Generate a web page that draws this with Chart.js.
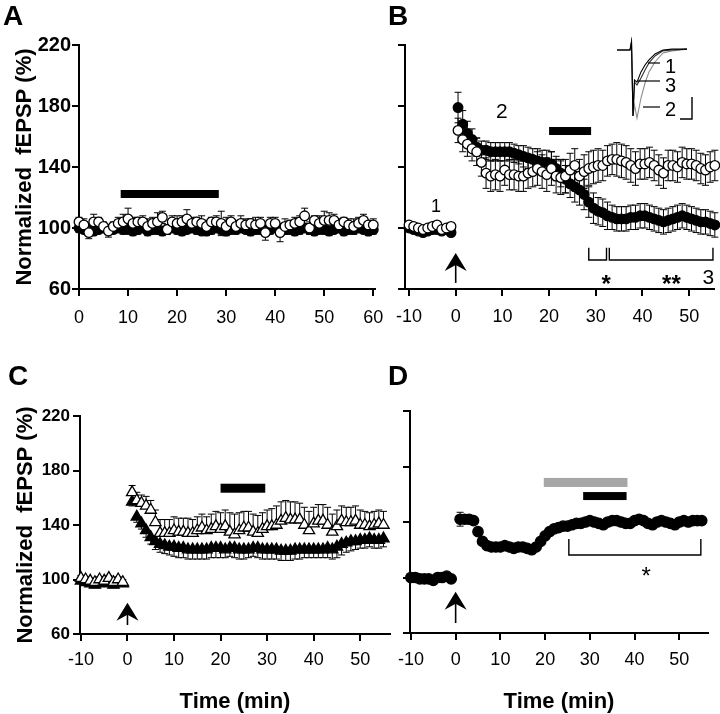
<!DOCTYPE html>
<html>
<head>
<meta charset="utf-8">
<script src="https://cdn.jsdelivr.net/npm/chart.js@4.4.1/dist/chart.umd.min.js"></script>
<style>
  html, body { margin: 0; padding: 0; background: #fff; }
  #fig { position: relative; width: 720px; height: 714px; overflow: hidden; background: #fff; }
  #fig canvas { position: absolute; }
</style>
</head>
<body>
<div id="fig">
  <canvas id="panelA" width="400" height="330" style="left:0;top:0"></canvas>
  <canvas id="panelB" width="360" height="330" style="left:360px;top:0"></canvas>
  <canvas id="panelC" width="400" height="384" style="left:0;top:330px"></canvas>
  <canvas id="panelD" width="360" height="384" style="left:360px;top:330px"></canvas>
</div>
<script>
const FAMILY = "'Liberation Sans', Arial, Helvetica, sans-serif";
const Y_TITLE = 'Normalized  fEPSP (%)';
const X_TITLE = 'Time (min)';

// ---- Panel A : two groups, no induction ----
const timesA = [0,1,2,3,4,5,6,7,8,9,10,11,12,13,14,15,16,17,18,19,20,21,22,23,24,25,26,27,28,29,30,
  31,32,33,34,35,36,37,38,39,40,41,42,43,44,45,46,47,48,49,50,51,52,53,54,55,56,57,58,59,60];
const openA = [104,102,97,104,104,101,98,101,103,104, 106,103,104,104,101,103,104,107,99,104,
  103,104,106,103,104,103,101,104,104,103, 101,104,101,103,102,103,102,103,97,103,
  103,97,101,102,103,104,108,100,105,103, 105,105,105,102,104,102,101,103,105,102, 102];
const filledA = [100,99,99,98,99,100,99,99,100,99, 99,98,99,100,98,99,99,98,99,100,
  99,98,99,100,99,98,98,99,100,99, 98,99,99,100,99,98,99,99,98,99,
  100,98,99,99,98,99,100,99,98,99, 99,98,99,100,98,99,99,100,99,98, 99];
const errOpenA = [3,4,4,5,3,3,4,3,4,5, 7,4,3,4,5,4,6,4,3,4, 5,4,6,4,3,5,4,3,4,8,
  6,4,4,5,4,3,5,4,5,4, 4,6,5,3,4,4,5,4,3,5, 6,5,4,4,3,4,5,4,4,3, 4];
const errFilledA = [3,2,3,3,2,3,3,2,3,3, 2,3,3,2,3,3,2,3,3,2, 3,3,2,3,3,2,3,3,2,3,
  3,2,3,3,2,3,3,2,3,3, 2,3,3,2,3,3,2,3,3,2, 3,3,2,3,3,2,3,3,2,3, 3];

// ---- Panel B ----
const timesB = [-10,-9,-8,-7,-6,-5,-4,-3,-2,-1,
  0.5,1.5,2.5,3.5,4.5,5.5,6.5,7.5,8.5,9.5, 10.5,11.5,12.5,13.5,14.5,15.5,16.5,17.5,18.5,19.5,
  20.5,21.5,22.5,23.5,24.5,25.5,26.5,27.5,28.5,29.5, 30.5,31.5,32.5,33.5,34.5,35.5,36.5,37.5,38.5,39.5,
  40.5,41.5,42.5,43.5,44.5,45.5,46.5,47.5,48.5,49.5, 50.5,51.5,52.5,53.5,54.5,55.5];
const openB = [102,101,100,99,100,101,102,99,100,101,
  164,158,155,152,150,143,136,134,135,134, 138,135,135,134,134,136,137,139,137,135,
  139,134,133,134,138,141,134,137,139,140, 141,141,144,145,145,144,143,141,139,142,
  142,143,141,138,136,141,141,140,143,142, 142,141,139,138,140,141];
const filledB = [100,99,98,97,98,99,99,98,99,97,
  179,168,162,158,153,151,151,150,150,150, 150,150,149,148,147,146,145,144,143,143,
  142,139,136,132,129,127,125,122,117,113, 111,110,108,107,106,106,106,107,107,108,
  108,107,106,105,104,105,106,107,108,107, 106,105,104,104,103,102];
const errOpenB = [2,2,2,2,2,2,2,2,2,2,
  8,8,8,8,9,9,10,10,10,10, 10,10,10,10,10,10,10,11,11,11,
  11,11,11,11,11,11,11,11,11,11, 11,10,10,10,11,11,11,11,11,10,
  10,10,10,10,10,10,10,10,10,10, 10,10,10,10,10,10];
const errFilledB = [2,2,2,2,2,2,2,2,2,2,
  10,9,8,7,6,6,6,6,6,6, 6,6,6,6,7,7,7,8,8,8,
  8,8,9,9,9,10,10,10,10,10, 9,9,9,8,8,8,8,8,8,8,
  8,8,8,8,8,8,8,8,8,8, 8,8,8,8,8,8];

// ---- Panel C ----
const timesC = [-10,-9,-8,-7,-6,-5,-4,-3,-2,-1,
  1,2,3,4,5,6,7,8,9,10, 11,12,13,14,15,16,17,18,19,20, 21,22,23,24,25,26,27,28,29,30,
  31,32,33,34,35,36,37,38,39,40, 41,42,43,44,45,46,47,48,49,50, 51,52,53,54,55];
const openC = [101,100,99,98,100,99,101,98,100,98,
  164,158,156,154,151,142,134,134,134,136, 135,135,134,134,136,138,136,137,139,137,
  139,135,133,136,138,138,135,134,137,139, 139,140,143,145,144,144,144,140,136,141,
  143,143,140,135,139,143,142,142,143,140, 140,139,140,141,140];
const filledC = [99,98,97,96,98,97,99,96,98,97,
  157,146,141,136,131,128,126,125,124,124, 123,123,122,122,122,122,122,123,123,123,
  122,123,123,122,122,122,123,123,122,122, 122,122,121,121,121,122,122,122,122,122,
  122,122,123,122,124,126,127,128,128,129, 129,130,129,129,130];
const errOpenC = [2,2,2,2,2,2,2,2,2,2,
  5,6,6,7,7,9,10,10,10,10, 10,10,11,10,10,10,10,11,11,12,
  12,14,15,13,12,12,13,13,12,12, 13,14,14,13,13,13,12,13,14,12,
  12,12,13,13,12,11,11,11,11,11, 10,10,10,10,10];
const errFilledC = [2,2,2,2,2,2,2,2,2,2,
  3,4,4,5,5,6,6,6,6,7, 7,7,7,7,7,7,7,7,7,7,
  6,6,7,7,7,6,6,7,7,7, 7,7,7,7,7,7,7,6,6,6,
  6,6,7,7,8,8,7,7,6,6, 6,6,6,6,6];

// ---- Panel D ----
const timesD = timesC;
const valuesD = [100,100,99,99,99,98,100,100,101,99,
  142,142,142,141,133,126,123,122,122,122, 123,122,121,122,122,121,120,122,126,130,
  133,135,136,137,137,138,139,139,140,141, 140,139,138,140,141,141,140,139,139,141,
  142,141,139,138,140,141,140,139,138,140, 141,140,141,141,141];
const errD = [1,1,1,1,1,1,1,1,1,1,
  5,3,2,2,2,2,2,2,2,2, 2,2,2,2,2,2,2,2,2,2, 2,2,2,2,2,2,2,2,2,2,
  2,2,2,2,2,2,2,2,2,2, 2,2,2,2,2,2,2,2,2,2, 2,2,2,2,2];

// inset of panel B: three averaged fEPSP sweeps (ms, mV)
const insetMs = [0, 2.6, 2.9, 3.2, 3.5, 4.0, 4.8, 5.6, 6.4, 7.6, 9.2, 11, 14];
const sweep1 = [0, 0, 0.27, -2.2, -1.0, -1.07, -0.73, -0.5, -0.33, -0.13, 0, 0.03, 0.03];
const sweep3 = [0, 0, 0.27, -2.2, -1.07, -1.17, -0.93, -0.67, -0.43, -0.2, -0.03, 0, 0.03];
const sweep2 = [0, 0, 0.27, -2.2, -1.83, -2.27, -1.6, -1.1, -0.73, -0.4, -0.1, -0.03, 0.03];

function pts(xs, ys) {
  return xs.map((x, i) => ({ x: x, y: ys[i] }));
}

function series(xs, ys, err, dir, style) {
  return Object.assign({
    data: pts(xs, ys),
    err: err,
    errDir: dir,
    showLine: false,
    clip: false,
    pointBorderColor: '#000',
    pointBorderWidth: 1.3
  }, style);
}

const OPEN_CIRCLE = { pointStyle: 'circle', pointRadius: 4.8, pointBackgroundColor: '#fff', order: 0 };
const FILLED_CIRCLE = { pointStyle: 'circle', pointRadius: 4.8, pointBackgroundColor: '#000', order: 1 };
const BIG_FILLED_CIRCLE = { pointStyle: 'circle', pointRadius: 5.2, pointBackgroundColor: '#000', order: 1 };
const OPEN_TRI = { pointStyle: 'triangle', pointRadius: 6.5, pointBackgroundColor: '#fff', order: 0 };
const FILLED_TRI = { pointStyle: 'triangle', pointRadius: 6.5, pointBackgroundColor: '#000', order: 1 };

// error bars, drawn under the markers
const errorBars = {
  id: 'errorBars',
  beforeDatasetsDraw(chart) {
    const { ctx } = chart;
    const xs = chart.scales.x, ys = chart.scales.y;
    ctx.save();
    ctx.strokeStyle = '#000';
    ctx.lineWidth = 1;
    chart.data.datasets.forEach(ds => {
      if (!ds.err) return;
      const dirs = ds.errDir === 'up' ? [1] : ds.errDir === 'down' ? [-1] : [1, -1];
      ds.data.forEach((p, i) => {
        const e = ds.err[i];
        if (!e) return;
        const px = xs.getPixelForValue(p.x);
        const py = ys.getPixelForValue(p.y);
        dirs.forEach(d => {
          const pe = ys.getPixelForValue(p.y + d * e);
          ctx.beginPath();
          ctx.moveTo(px, py);
          ctx.lineTo(px, pe);
          ctx.moveTo(px - 3.5, pe);
          ctx.lineTo(px + 3.5, pe);
          ctx.stroke();
        });
      });
    });
    ctx.restore();
  }
};

function drawInset(ctx, o) {
  const X = t => o.left + t * o.pxPerMs;
  const Y = v => o.base - v * o.pxPerMv;
  const trace = (vals, color) => {
    ctx.strokeStyle = color;
    ctx.lineWidth = 1.1;
    ctx.beginPath();
    insetMs.forEach((t, i) => (i ? ctx.lineTo(X(t), Y(vals[i])) : ctx.moveTo(X(t), Y(vals[i]))));
    ctx.stroke();
  };
  trace(sweep2, '#8c8c8c');
  trace(sweep3, '#333');
  trace(sweep1, '#000');
  ctx.strokeStyle = '#000';
  ctx.lineWidth = 1.2;
  ctx.fillStyle = '#000';
  ctx.font = `20px ${FAMILY}`;
  ctx.textAlign = 'left';
  ctx.textBaseline = 'middle';
  o.tags.forEach(tg => {
    ctx.beginPath();
    ctx.moveTo(tg.from, tg.line);
    ctx.lineTo(tg.to, tg.line);
    ctx.stroke();
    ctx.fillText(tg.text, tg.to + 5, tg.textY);
  });
  ctx.lineWidth = 1.4;
  ctx.beginPath();
  ctx.moveTo(o.bar.x, o.bar.top);
  ctx.lineTo(o.bar.x, o.bar.bottom);
  ctx.lineTo(o.bar.x - o.bar.len, o.bar.bottom);
  ctx.stroke();
}

// bars, arrows, brackets, labels, panel letter
const marksPlugin = {
  id: 'marks',
  afterDraw(chart, args, opts) {
    const { ctx } = chart;
    const X = v => chart.scales.x.getPixelForValue(v);
    const Y = v => chart.scales.y.getPixelForValue(v);
    ctx.save();
    (opts.bars || []).forEach(b => {
      ctx.fillStyle = b.color;
      ctx.fillRect(X(b.from), Y(b.at) - b.thick / 2, X(b.to) - X(b.from), b.thick);
    });
    (opts.arrows || []).forEach(a => {
      const px = X(a.at), tip = Y(a.tip), tail = Y(a.tail);
      ctx.strokeStyle = '#000';
      ctx.lineWidth = 1.6;
      ctx.beginPath();
      ctx.moveTo(px, tip + 10);
      ctx.lineTo(px, tail);
      ctx.stroke();
      ctx.fillStyle = '#000';
      ctx.beginPath();
      ctx.moveTo(px, tip);
      ctx.lineTo(px + 11, tip + 18);
      ctx.lineTo(px, tip + 12);
      ctx.lineTo(px - 11, tip + 18);
      ctx.closePath();
      ctx.fill();
    });
    (opts.brackets || []).forEach(b => {
      ctx.strokeStyle = '#000';
      ctx.lineWidth = 1.4;
      ctx.beginPath();
      ctx.moveTo(X(b.from), Y(b.top));
      ctx.lineTo(X(b.from), Y(b.at));
      ctx.lineTo(X(b.to), Y(b.at));
      ctx.lineTo(X(b.to), Y(b.top));
      ctx.stroke();
    });
    (opts.labels || []).forEach(l => {
      ctx.fillStyle = '#000';
      ctx.font = l.font;
      ctx.textAlign = 'center';
      ctx.textBaseline = l.baseline || 'middle';
      ctx.fillText(l.text, X(l.at), Y(l.level));
    });
    if (opts.letter) {
      ctx.fillStyle = '#000';
      ctx.font = `bold 28px ${FAMILY}`;
      ctx.textAlign = 'left';
      ctx.textBaseline = 'alphabetic';
      ctx.fillText(opts.letter.text, opts.letter.left, opts.letter.base);
    }
    if (opts.inset) drawInset(ctx, opts.inset);
    ctx.restore();
  }
};

function axisX(o) {
  return {
    type: 'linear',
    min: o.min,
    max: o.max,
    afterFit(s) { s.height = o.height; },
    grid: { drawOnChartArea: false, drawTicks: true, tickLength: 7, color: '#000', lineWidth: 2 },
    border: { display: true, color: '#000', width: 2 },
    ticks: {
      stepSize: 10, includeBounds: false, autoSkip: false, maxRotation: 0,
      padding: o.pad, color: '#000', font: { family: FAMILY, size: 18 }
    },
    title: o.title ? {
      display: true, text: X_TITLE, color: '#000',
      font: { family: FAMILY, size: 22, weight: 'bold', lineHeight: 1 },
      padding: { top: 0, bottom: 1 }
    } : { display: false }
  };
}

function axisY(o) {
  return {
    type: 'linear',
    min: 60,
    max: 220,
    afterFit(s) { s.width = o.width; },
    grid: { drawOnChartArea: false, drawTicks: true, tickLength: 7, color: '#000', lineWidth: 2 },
    border: { display: true, color: '#000', width: 2 },
    ticks: {
      stepSize: 40, includeBounds: false, padding: o.pad || 1, color: '#000',
      font: { family: FAMILY, size: o.size || 18, weight: 'bold' },
      callback: o.labels ? (v => String(v)) : (() => '')
    },
    title: o.title ? {
      display: true, text: Y_TITLE, color: '#000',
      font: { family: FAMILY, size: 22, weight: 'bold', lineHeight: 1 },
      padding: { top: o.titlePad, bottom: 0 }
    } : { display: false }
  };
}

function makePanel(id, cfg) {
  return new Chart(document.getElementById(id), {
    type: 'scatter',
    data: { datasets: cfg.datasets },
    options: {
      responsive: false,
      animation: false,
      events: [],
      layout: { padding: cfg.padding },
      plugins: { legend: { display: false }, tooltip: { enabled: false }, marks: cfg.marks },
      scales: { x: axisX(cfg.x), y: axisY(cfg.y) }
    },
    plugins: [errorBars, marksPlugin]
  });
}

makePanel('panelA', {
  padding: { left: 0, top: 45, right: 25, bottom: 0 },
  x: { min: 0, max: 60.35, height: 41, pad: 11 },
  y: { width: 79, labels: true, size: 20, pad: 0, title: true, titlePad: 14 },
  datasets: [
    series(timesA, filledA, errFilledA, 'both', FILLED_CIRCLE),
    series(timesA, openA, errOpenA, 'both', OPEN_CIRCLE)
  ],
  marks: {
    letter: { text: 'A', left: 3, base: 25 },
    bars: [{ from: 8.5, to: 28.5, at: 122.3, thick: 8, color: '#000' }]
  }
});

makePanel('panelB', {
  padding: { left: 0, top: 45, right: 6, bottom: 0 },
  x: { min: -10.86, max: 55.3, height: 41, pad: 10 },
  y: { width: 45, labels: false },
  datasets: [
    series(timesB, filledB, errFilledB, 'both', FILLED_CIRCLE),
    series(timesB, openB, errOpenB, 'both', OPEN_CIRCLE)
  ],
  marks: {
    letter: { text: 'B', left: 28, base: 25 },
    bars: [{ from: 20, to: 29, at: 163.6, thick: 8, color: '#000' }],
    arrows: [{ at: 0, tip: 83.6, tail: 64 }],
    brackets: [
      { from: 28.5, to: 32.3, at: 79, top: 87 },
      { from: 32.9, to: 55.1, at: 79, top: 87 }
    ],
    labels: [
      { text: '1', at: -4.2, level: 114, font: `18px ${FAMILY}` },
      { text: '2', at: 9.9, level: 176, font: `21px ${FAMILY}` },
      { text: '3', at: 54.1, level: 67.2, font: `21px ${FAMILY}` },
      { text: '*', at: 32.2, level: 58.2, font: `bold 24px ${FAMILY}`, baseline: 'alphabetic' },
      { text: '**', at: 46.2, level: 58.2, font: `bold 24px ${FAMILY}`, baseline: 'alphabetic' }
    ],
    inset: {
      left: 257, base: 50, pxPerMs: 5, pxPerMv: 30,
      tags: [
        { text: '1', from: 288, to: 300, line: 63, textY: 67 },
        { text: '3', from: 278, to: 300, line: 81, textY: 86 },
        { text: '2', from: 283, to: 300, line: 107, textY: 110 }
      ],
      bar: { x: 332, top: 97, bottom: 119, len: 12 }
    }
  }
});

makePanel('panelC', {
  padding: { left: 0, top: 86, right: 10, bottom: 0 },
  x: { min: -10.2, max: 56.4, height: 80, pad: 8, title: true },
  y: { width: 80, labels: true, size: 17, pad: 3, title: true, titlePad: 15 },
  datasets: [
    series(timesC, filledC, errFilledC, 'down', FILLED_TRI),
    series(timesC, openC, errOpenC, 'up', OPEN_TRI)
  ],
  marks: {
    letter: { text: 'C', left: 8, base: 55 },
    bars: [{ from: 20, to: 29.6, at: 167, thick: 9, color: '#000' }],
    arrows: [{ at: 0, tip: 83, tail: 66.6 }]
  }
});

makePanel('panelD', {
  padding: { left: 0, top: 81, right: 12, bottom: 0 },
  x: { min: -10.2, max: 56.4, height: 81, pad: 9, title: true },
  y: { width: 50, labels: false },
  datasets: [
    series(timesD, valuesD, errD, 'both', BIG_FILLED_CIRCLE)
  ],
  marks: {
    letter: { text: 'D', left: 28, base: 55 },
    bars: [
      { from: 19.7, to: 38.4, at: 168.5, thick: 9, color: '#a6a6a6' },
      { from: 28.5, to: 38.2, at: 158.7, thick: 8, color: '#000' }
    ],
    arrows: [{ at: 0, tip: 89.8, tail: 67.2 }],
    brackets: [{ from: 25.3, to: 54.8, at: 116.2, top: 127.7 }],
    labels: [
      { text: '*', at: 42.6, level: 95.5, font: `24px ${FAMILY}`, baseline: 'alphabetic' }
    ]
  }
});
</script>
</body>
</html>
